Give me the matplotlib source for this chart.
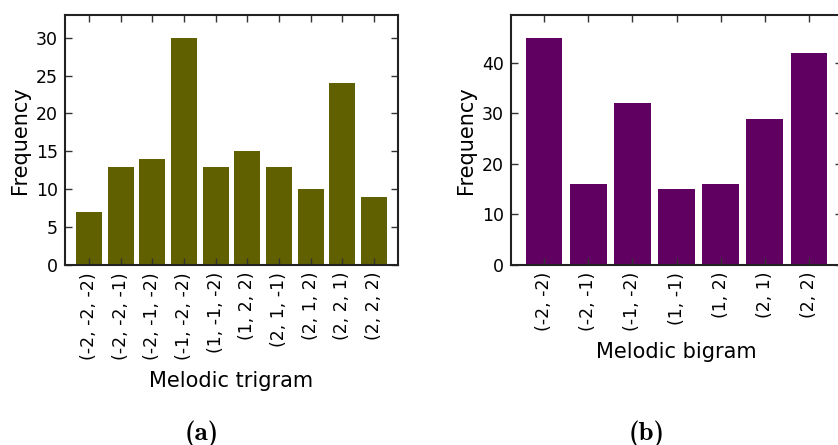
import matplotlib
matplotlib.use("Agg")
import matplotlib.pyplot as plt
from matplotlib.font_manager import FontProperties
import numpy as np
import os

# data
trigrams = ["(-2, -2, -2)", "(-2, -2, -1)", "(-2, -1, -2)", "(-1, -2, -2)", "(1, -1, -2)",
            "(1, 2, 2)", "(2, 1, -1)", "(2, 1, 2)", "(2, 2, 1)", "(2, 2, 2)"]
trigram_freq = [7, 13, 14, 30, 13, 15, 13, 10, 24, 9]

bigrams = ["(-2, -2)", "(-2, -1)", "(-1, -2)", "(1, -1)", "(1, 2)", "(2, 1)", "(2, 2)"]
bigram_freq = [45, 16, 32, 15, 16, 29, 42]

OLIVE = "#606000"
PURPLE = "#600060"

W, H = 838, 445
fig = plt.figure(figsize=(W / 100, H / 100), dpi=100)


def bar_panel(rect, labels, values, color, xlabel, ylabel_x):
    ax = fig.add_axes(rect)
    x = np.arange(len(values))
    ax.bar(x, values, width=0.82, color=color, linewidth=0)
    ax.set_xlim(-0.76, len(values) - 1 + 0.76)
    ax.set_ylim(0, max(values) * 1.1)
    ax.set_xticks(x)
    ax.set_xticklabels(labels, rotation=90, fontsize=12.5)
    ax.tick_params(axis="y", labelsize=12.5)
    ax.tick_params(direction="in", length=5, width=1, top=True, right=True,
                   color="#333333", pad=5)
    for s in ax.spines.values():
        s.set_linewidth(1.5)
        s.set_color("#222222")
    ax.set_xlabel(xlabel, fontsize=15, labelpad=8)
    ax.set_ylabel("Frequency", fontsize=15)
    ax.yaxis.set_label_coords(ylabel_x, 0.5)
    return ax


ax1 = bar_panel([65 / W, 1 - 265 / H, 333 / W, 250 / H], trigrams, trigram_freq,
                OLIVE, "Melodic trigram", -0.106)
ax1.set_yticks(range(0, 31, 5))

# right panel runs a little past the figure edge, as in the original
ax2 = bar_panel([511 / W, 1 - 265 / H, 331 / W, 250 / H], bigrams, bigram_freq,
                PURPLE, "Melodic bigram", -0.105)
ax2.set_yticks(range(0, 41, 10))

cm_bold = os.path.join(matplotlib.get_data_path(), "fonts", "ttf", "cmb10.ttf")
cap_font = FontProperties(fname=cm_bold, size=19.5)
fig.text(202 / W, 1 - 434 / H, "(a)", ha="center", va="center", fontproperties=cap_font)
fig.text(647 / W, 1 - 434 / H, "(b)", ha="center", va="center", fontproperties=cap_font)

fig.savefig("out.png", dpi=100)
